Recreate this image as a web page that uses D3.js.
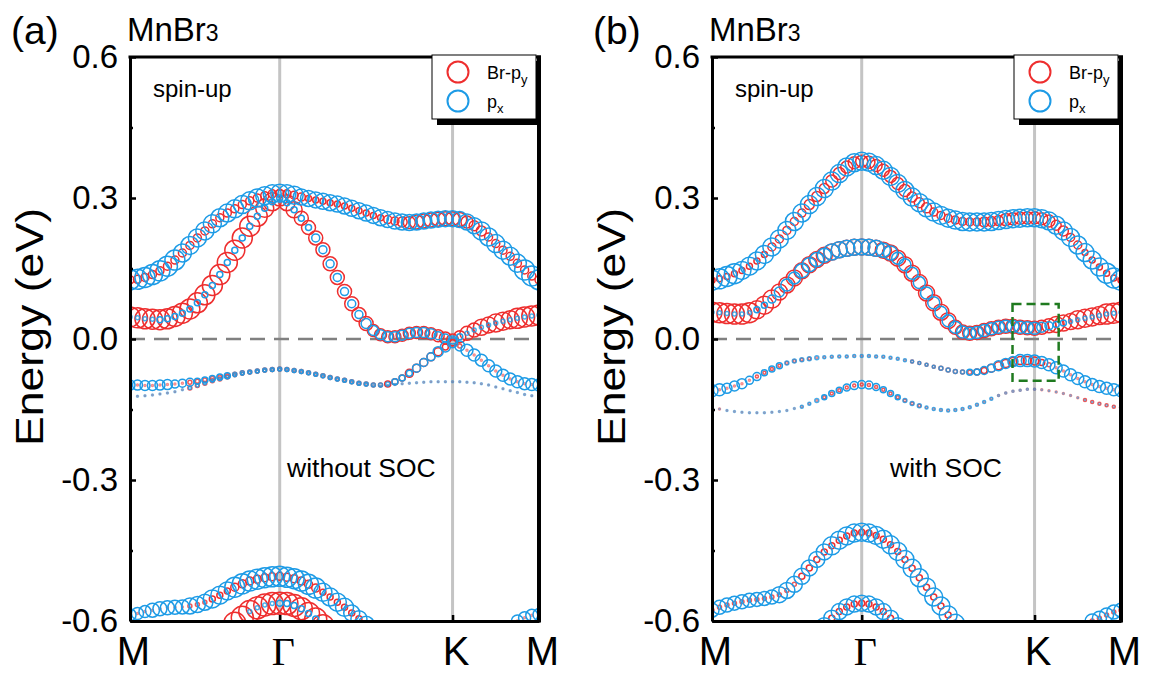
<!DOCTYPE html>
<html><head><meta charset="utf-8">
<script src="https://cdnjs.cloudflare.com/ajax/libs/d3/7.8.5/d3.min.js"></script>
<style>
html,body{margin:0;padding:0;background:#fff;}
svg{display:block;font-family:"Liberation Sans",Arial,sans-serif;}
</style></head><body>
<svg id="chart" width="1149" height="676"></svg>
<script>
// ---------- axis data ----------
const kTicks = [0, 0.5774, 1.2440, 1.5774];
const kLabels = ["M", "Γ", "K", "M"];
const kSteps = [20, 24, 12];           // k-points per path segment (M-Γ, Γ-K, K-M)
const yTicks = [-0.6, -0.3, 0.0, 0.3, 0.6];
const yTickLabels = ["-0.6", "-0.3", "0.0", "0.3", "0.6"];
const yMinorTicks = [-0.45, -0.15, 0.15, 0.45];
const legendLabels = [["Br-p", "y"], ["p", "x"]];
const panelTags = ["(a)", "(b)"];
const panelNotes = ["without SOC", "with SOC"];
const greenBoxK = [1.159, 1.337];
const greenBoxE = [-0.089, 0.0745];

// ---------- panel (a): without SOC ----------
const aTopE = [0.126,0.127,0.131,0.137,0.145,0.155,0.168,0.183,0.199,0.215,0.230,0.245,0.258,0.268,0.277,0.286,0.294,0.300,0.305,0.309,0.310,
  0.309,0.306,0.302,0.299,0.296,0.293,0.290,0.287,0.283,0.278,0.273,0.268,0.263,0.258,0.254,0.251,0.249,0.248,0.249,0.251,0.253,0.255,0.256,0.256,
  0.254,0.249,0.241,0.230,0.217,0.203,0.189,0.176,0.161,0.147,0.134,0.126];
const aTopR = [4,4,4,4,4,4,4,4,4,4,4,4,4,4,4,4,4,4,4,4,4,
  4,4,4,3,3,3,3,3,3,3,3,3,3,3,4,4,5,6,7,7,7,7,7,7,
  7,6,5,5,4,4,4,4,4,4,4,4];
const aTopB = [10,10,10,10,10,10,10,9,9,9,9,9,9,9,9,9,9,9,9,9,9,
  9,9,8,8,8,8,8,8,8,8,8,8,8,8,8,8,8,8,8,8,8,8,8,8,
  8,8,8,9,9,9,9,9,9,10,10,10];

const aRedE = [0.047,0.045,0.043,0.042,0.041,0.043,0.048,0.055,0.064,0.077,0.094,0.114,0.137,0.163,0.189,0.215,0.240,0.261,0.278,0.292,0.300,
  0.290,0.275,0.257,0.237,0.215,0.190,0.160,0.131,0.101,0.075,0.052,0.033,0.018,0.009,0.005,0.005,0.008,0.012,0.014,0.014,0.011,0.007,0.002,-0.002,
  0.005,0.012,0.019,0.025,0.030,0.034,0.038,0.041,0.044,0.047,0.049,0.051];
const aRedR = [10,10,10,10,10,10,10,10,10,10,10,10,10,10,10,10,10,10,9,9,8,
  8,8,7,7,7,7,7,7,7,7,7,7,6,6,6,6,6,6,6,6,6,6,6,6,
  6,7,7,8,8,9,9,9,10,10,10,10];
const aRedB = [2,2,2,2,3,3,3,3,3,3,3,3,3,3,3,3,3,3,3,3,3,
  3,3,3,3,4,4,4,4,4,4,4,5,5,5,5,5,5,5,5,5,5,4,4,4,
  3,2,2,2,2,2,2,2,2,2,2,2];

const aB3E = [-0.098,-0.098,-0.099,-0.099,-0.098,-0.097,-0.096,-0.094,-0.092,-0.090,-0.087,-0.084,-0.081,-0.078,-0.075,-0.072,-0.070,-0.068,-0.066,-0.065,-0.064,
  -0.065,-0.067,-0.069,-0.072,-0.075,-0.078,-0.082,-0.085,-0.088,-0.091,-0.094,-0.096,-0.098,-0.098,-0.096,-0.091,-0.083,-0.073,-0.062,-0.050,-0.038,-0.027,-0.017,-0.008,
  -0.015,-0.024,-0.034,-0.045,-0.057,-0.068,-0.077,-0.085,-0.091,-0.095,-0.097,-0.098];
const aB3R = [1,1,1,1,1,1,1,1,2,2,2,2,2,2,2,2,2,2,2,2,2,
  2,2,2,2,2,2,2,2,2,2,2,2,2,2,3,3,3,4,4,4,4,4,3,3,
  2,1,1,1,1,1,1,1,1,1,1,1];
const aB3B = [5,5,5,5,5,5,4,4,4,3,3,3,3,3,2,2,2,2,2,2,2,
  2,2,2,2,2,2,2,2,2,2,2,2,2,2,2,3,3,3,4,4,4,5,5,5,
  5,6,6,6,6,6,6,6,6,6,6,6];

const aB4E = [-0.123,-0.122,-0.121,-0.119,-0.117,-0.115,-0.112,-0.108,-0.104,-0.099,-0.094,-0.089,-0.085,-0.081,-0.077,-0.074,-0.071,-0.069,-0.067,-0.066,-0.065,
  -0.066,-0.068,-0.070,-0.073,-0.076,-0.079,-0.083,-0.086,-0.089,-0.092,-0.095,-0.097,-0.099,-0.100,-0.099,-0.097,-0.095,-0.094,-0.093,-0.092,-0.091,-0.091,-0.091,-0.091,
  -0.091,-0.092,-0.093,-0.095,-0.098,-0.102,-0.106,-0.110,-0.114,-0.118,-0.121,-0.123];
const aB4R = [0.5,0.5,0.5,0.5,0.5,0.5,0.5,0.5,2,2,2,2,2,2,1.5,1.5,1.5,1.5,1.5,1.5,1.5,
  1,1,1,1,1,1,1,1,1,1,1,1,0.5,0.5,0.5,0.5,0.5,0.5,0.5,0.5,0.5,0.5,0.5,0.5,
  0.5,0.5,0.5,0.5,0.5,0.5,0.5,0.5,0.5,0.5,0.5,0.5];
const aB4B = [1,1,1,1,1,1,1,1,1.5,1.5,1.5,1.5,1.5,1.5,1.5,1.5,1.5,1.5,1.5,1.5,1.5,
  1.5,1.5,1.5,1.5,1.5,1.5,1.5,1.5,1.5,1.5,1.5,1.5,1,1,1,1,1,1,1,1,1,1,1,1,
  1,1,1,1,1,1,1,1,1,1,1,1];

const aLow1E = [-0.587,-0.584,-0.580,-0.577,-0.574,-0.572,-0.571,-0.570,-0.568,-0.565,-0.560,-0.553,-0.545,-0.536,-0.528,-0.521,-0.515,-0.511,-0.508,-0.506,-0.505,
  -0.507,-0.510,-0.515,-0.522,-0.530,-0.539,-0.549,-0.560,-0.571,-0.583,-0.595,-0.607,-0.620,-0.633];
const aLow1R = [1,1,1,1,1,1,1,1,2,2,2,3,3,3,4,4,4,4,4,4,4,
  4,4,4,4,4,3,3,3,3,3,3,3,3,3];
const aLow1B = [6,6,6,7,7,7,7,7,8,8,8,9,9,9,10,10,10,10,10,10,10,
  10,10,10,10,10,9,9,9,9,8,8,8,8,8];
const aLow1Start = 0;
const aLow1bE = [-0.600,-0.593,-0.588,-0.586];
const aLow1bR = [1,1,1,1];
const aLow1bB = [6,6,6,6];
const aLow1bStart = 53;
const aLow2E = [-0.605,-0.592,-0.580,-0.572,-0.566,-0.563,-0.562,-0.563,-0.567,-0.574,-0.584,-0.596,-0.610];
const aLow2R = [11,11,11,11,11,11,11,11,11,11,11,11,11];
const aLow2B = [0,0,2,2,2,2,3,3,3,3,3,3,3];
const aLow2Start = 14;

// ---------- panel (b): with SOC ----------
const bTopE = [0.125,0.128,0.133,0.139,0.146,0.155,0.166,0.180,0.196,0.213,0.231,0.250,0.268,0.286,0.303,0.320,0.336,0.352,0.366,0.375,0.378,
  0.376,0.369,0.359,0.346,0.331,0.316,0.302,0.290,0.279,0.270,0.263,0.257,0.253,0.250,0.249,0.249,0.249,0.250,0.252,0.254,0.256,0.257,0.258,0.258,
  0.256,0.251,0.242,0.230,0.216,0.200,0.184,0.168,0.153,0.140,0.130,0.125];
const bTopR = [3,3,3,3,3,3,3,3,4,4,4,4,4,5,5,5,6,6,6,6,6,
  6,6,6,6,6,6,5,5,5,4,4,4,4,4,4,4,5,5,5,6,6,6,6,6,
  6,6,5,5,4,4,3,3,3,3,3,3];
const bTopB = [10,10,10,10,9,9,9,9,9,9,9,9,9,9,9,9,9,9,9,9,9,
  9,9,9,9,9,9,9,9,9,9,9,9,9,9,9,9,9,9,9,9,9,9,9,9,
  9,9,9,9,9,9,9,9,9,10,10,10];

const bRedE = [0.057,0.056,0.054,0.053,0.053,0.056,0.062,0.072,0.085,0.100,0.115,0.130,0.145,0.158,0.169,0.178,0.185,0.190,0.193,0.195,0.196,
  0.195,0.193,0.189,0.183,0.172,0.158,0.140,0.120,0.098,0.077,0.057,0.039,0.025,0.015,0.012,0.014,0.018,0.022,0.025,0.027,0.027,0.025,0.024,0.023,
  0.025,0.028,0.031,0.034,0.037,0.041,0.044,0.047,0.050,0.053,0.055,0.057];
const bRedR = [10,10,10,10,10,10,9,9,9,8,8,8,8,8,8,8,8,8,8,8,8,
  8,8,8,8,8,8,8,8,8,8,8,8,7,7,7,7,7,7,7,7,7,7,7,7,
  7,7,8,8,8,9,9,9,9,10,10,10];
const bRedB = [2,2,2,2,2,2,3,3,4,5,6,6,7,7,7,7,8,8,8,8,8,
  8,8,7,7,6,6,6,6,6,6,6,6,6,6,6,6,6,6,6,6,6,6,6,6,
  5,4,3,3,2,2,2,2,2,2,2,2];

const bB3E = [-0.110,-0.108,-0.105,-0.100,-0.095,-0.088,-0.080,-0.072,-0.064,-0.057,-0.051,-0.047,-0.044,-0.042,-0.040,-0.039,-0.038,-0.037,-0.037,-0.036,-0.036,
  -0.036,-0.037,-0.038,-0.040,-0.042,-0.045,-0.048,-0.051,-0.055,-0.059,-0.062,-0.066,-0.069,-0.070,-0.071,-0.070,-0.067,-0.062,-0.057,-0.052,-0.048,-0.046,-0.046,-0.047,
  -0.050,-0.055,-0.061,-0.068,-0.076,-0.084,-0.091,-0.097,-0.101,-0.105,-0.108,-0.110];
const bB3R = [1,1,1,1,1,1,1.5,1.5,1.5,1.5,1.5,1.5,1.5,1.5,1,1,1,1,1,1,1,
  1,1,1,1,1,1,1.5,1.5,1.5,1.5,2,2,2,2,2,3,3,4,4,4,4,4,4,4,
  3,2,1,1,1,1,1,1,1,1,1,1];
const bB3B = [6,6,5,5,5,4,4,3,3,3,2,2,2,2,2,1.5,1.5,1.5,1.5,1.5,1.5,
  1.5,1.5,1.5,1.5,1.5,1.5,1.5,1.5,1.5,1.5,2,2,2,2,3,3,4,4,5,5,5,6,6,6,
  6,6,6,6,6,6,6,6,6,6,6,6];

const bB4E = [-0.146,-0.149,-0.152,-0.154,-0.156,-0.157,-0.157,-0.157,-0.156,-0.154,-0.152,-0.148,-0.144,-0.138,-0.131,-0.124,-0.116,-0.109,-0.103,-0.099,-0.097,
  -0.098,-0.102,-0.108,-0.116,-0.124,-0.131,-0.137,-0.142,-0.146,-0.149,-0.151,-0.152,-0.151,-0.149,-0.145,-0.140,-0.134,-0.127,-0.120,-0.115,-0.111,-0.109,-0.107,-0.107,
  -0.108,-0.110,-0.113,-0.116,-0.120,-0.125,-0.130,-0.134,-0.138,-0.141,-0.144,-0.146];
const bB4R = [1,1,0.5,0.5,0.5,0.5,0.5,0.5,0.5,0.5,0.5,0.5,1,1,1,1.5,1.5,1.5,1.5,1.5,1.5,
  1.5,1.5,1.5,1.5,1.5,1.5,1.5,1.5,1,1,1,1,1,1,1,1,1,1,1,1,1,1,1,1,
  1,1,1,1,1,1,1.5,1.5,1.5,1.5,1.5,1.5];
const bB4B = [0.5,0.5,1,1,1,1,1,1,1,1,1,1,1.5,1.5,2,2.5,3,3,3.5,4,4,
  4,3.5,3,3,2.5,2,2,2,1.5,1.5,1.5,1.5,1.5,1.5,1.5,1.5,1.5,1.5,1,1,1,1,1,1,
  0.5,0.5,0.5,0.5,0.5,0.5,0.5,0.5,0.5,0.5,0.5,0.5];

const bLow1E = [-0.577,-0.571,-0.566,-0.562,-0.559,-0.556,-0.554,-0.552,-0.549,-0.544,-0.535,-0.522,-0.505,-0.487,-0.469,-0.453,-0.440,-0.428,-0.419,-0.413,-0.411,
  -0.413,-0.418,-0.426,-0.438,-0.452,-0.469,-0.488,-0.508,-0.528,-0.549,-0.568,-0.587,-0.605,-0.622];
const bLow1R = [2,2,2,2,2,2,2,2,2,2,2,2,3,3,3,3,3,3,3,3,3,
  3,3,3,3,3,3,3,3,3,3,3,3,3,3];
const bLow1B = [7,7,7,7,7,7,7,7,7,8,8,8,8,8,8,8,9,9,9,9,9,
  9,9,9,9,9,9,9,9,9,9,9,9,9,9];
const bLow1Start = 0;
const bLow1bE = [-0.600,-0.594,-0.587,-0.581,-0.577];
const bLow1bR = [2,2,2,2,2];
const bLow1bB = [7,7,7,7,7];
const bLow1bStart = 52;
const bLow2E = [-0.610,-0.594,-0.580,-0.570,-0.564,-0.562,-0.564,-0.570,-0.580,-0.594,-0.610];
const bLow2R = [3,3,3,3,3,3,3,3,3,3,3];
const bLow2B = [8,8,8,8,8,8,8,8,8,8,8];
const bLow2Start = 15;

// ---------- build ----------
const RED = "#ee2e2e", BLUE = "#1d9be6";
const kGrid = [];
kSteps.forEach((n, s) => {
  for (let j = (s === 0 ? 0 : 1); j <= n; j++) kGrid.push(kTicks[s] + (kTicks[s + 1] - kTicks[s]) * j / n);
});

const panelBands = [
  [
    {e: aTopE, r: aTopR, b: aTopB, start: 0},
    {e: aRedE, r: aRedR, b: aRedB, start: 0},
    {e: aB3E, r: aB3R, b: aB3B, start: 0},
    {e: aB4E, r: aB4R, b: aB4B, start: 0},
    {e: aLow1E, r: aLow1R, b: aLow1B, start: aLow1Start},
    {e: aLow1bE, r: aLow1bR, b: aLow1bB, start: aLow1bStart},
    {e: aLow2E, r: aLow2R, b: aLow2B, start: aLow2Start}
  ],
  [
    {e: bTopE, r: bTopR, b: bTopB, start: 0},
    {e: bRedE, r: bRedR, b: bRedB, start: 0},
    {e: bB3E, r: bB3R, b: bB3B, start: 0},
    {e: bB4E, r: bB4R, b: bB4B, start: 0},
    {e: bLow1E, r: bLow1R, b: bLow1B, start: bLow1Start},
    {e: bLow1bE, r: bLow1bR, b: bLow1bB, start: bLow1bStart},
    {e: bLow2E, r: bLow2R, b: bLow2B, start: bLow2Start}
  ]
];

const svg = d3.select("#chart");
const plotW = 409, plotTop = 57, plotBot = 621;
const lefts = [130, 712];

lefts.forEach((left, pi) => {
  const g = svg.append("g");
  const x = d3.scaleLinear().domain([kTicks[0], kTicks[3]]).range([left, left + plotW]);
  const y = d3.scaleLinear().domain([-0.6, 0.6]).range([plotBot, plotTop]);

  const clipId = "clip" + pi;
  svg.append("clipPath").attr("id", clipId).append("rect")
    .attr("x", left).attr("y", plotTop).attr("width", plotW).attr("height", plotBot - plotTop);

  // high-symmetry lines
  g.selectAll("line.hs").data([kTicks[1], kTicks[2]]).join("line")
    .attr("x1", d => x(d)).attr("x2", d => x(d)).attr("y1", plotTop).attr("y2", plotBot)
    .attr("stroke", "#c4c4c4").attr("stroke-width", 3);
  // Fermi level
  g.append("line").attr("x1", x(kTicks[0])).attr("x2", x(kTicks[3])).attr("y1", y(0)).attr("y2", y(0))
    .attr("stroke", "#808080").attr("stroke-width", 2.5).attr("stroke-dasharray", "15,9");

  // fat bands
  const cg = g.append("g").attr("clip-path", `url(#${clipId})`);
  const bands = panelBands[pi];
  [["r", RED], ["b", BLUE]].forEach(([key, col]) => {
    bands.forEach(band => {
      const pts = [];
      band.e.forEach((e, i) => {
        const rad = band[key][i];
        if (e !== null && rad > 0) pts.push({k: kGrid[band.start + i], e: e, rad: rad});
      });
      cg.append("g").selectAll("circle").data(pts).join("circle")
        .attr("cx", d => x(d.k)).attr("cy", d => y(d.e)).attr("r", d => d.rad)
        .attr("fill", "none").attr("stroke", col).attr("stroke-width", 1.5)
        .attr("stroke-opacity", d => d.rad < 1.2 ? 0.55 : (d.rad < 2.5 ? 0.8 : 1));
    });
  });

  // green dashed box (panel b)
  if (pi === 1) {
    g.append("rect")
      .attr("x", x(greenBoxK[0])).attr("y", y(greenBoxE[1]))
      .attr("width", x(greenBoxK[1]) - x(greenBoxK[0])).attr("height", y(greenBoxE[0]) - y(greenBoxE[1]))
      .attr("fill", "none").attr("stroke", "#1f7a1f").attr("stroke-width", 2.5).attr("stroke-dasharray", "9,5");
  }

  // axes
  const ax = g.append("g").attr("transform", `translate(${left},0)`)
    .call(d3.axisLeft(y).tickValues(yTicks).tickFormat((d, i) => yTickLabels[i]).tickSize(-6).tickSizeOuter(0).tickPadding(12));
  ax.select(".domain").attr("stroke-width", 3);
  ax.selectAll(".tick line").attr("stroke-width", 2.5);
  ax.selectAll(".tick text").attr("font-size", 33).attr("font-family", "Liberation Sans, Arial, sans-serif").attr("fill", "#000");

  const axm = g.append("g").attr("transform", `translate(${left},0)`)
    .call(d3.axisLeft(y).tickValues(yMinorTicks).tickFormat("").tickSize(-3).tickSizeOuter(0));
  axm.select(".domain").remove();
  axm.selectAll(".tick line").attr("stroke-width", 2.5);

  const bx = g.append("g").attr("transform", `translate(0,${plotBot})`)
    .call(d3.axisBottom(x).tickValues(kTicks).tickFormat((d, i) => kLabels[i]).tickSize(-6).tickSizeOuter(0).tickPadding(16));
  bx.select(".domain").attr("stroke-width", 3);
  bx.selectAll(".tick line").attr("stroke-width", 2.5);
  bx.selectAll(".tick text").attr("font-size", 40).attr("dx", 3).attr("fill", "#000")
    .attr("font-family", (d, i) => kLabels[i] === "Γ" ? "Liberation Serif, Times New Roman, serif" : "Liberation Sans, Arial, sans-serif");

  // frame top/right
  g.append("line").attr("x1", left - 1.5).attr("x2", left + plotW + 2).attr("y1", plotTop).attr("y2", plotTop)
    .attr("stroke", "#000").attr("stroke-width", 3);
  g.append("line").attr("x1", left + plotW).attr("x2", left + plotW).attr("y1", plotTop - 1.5).attr("y2", plotBot + 1.5)
    .attr("stroke", "#000").attr("stroke-width", 4);

  // legend
  const lx = left + 302, ly = 55;
  g.append("rect").attr("x", lx + 5).attr("y", ly + 6).attr("width", 104).attr("height", 64).attr("fill", "#000");
  g.append("rect").attr("x", lx).attr("y", ly).attr("width", 104).attr("height", 64)
    .attr("fill", "#fff").attr("stroke", "#000").attr("stroke-width", 1);
  [[RED, 72, 79], [BLUE, 101, 108]].forEach(([col, cy, by], i) => {
    g.append("circle").attr("cx", lx + 26).attr("cy", cy).attr("r", 10.5)
      .attr("fill", "none").attr("stroke", col).attr("stroke-width", 2);
    const t = g.append("text").attr("x", lx + 55).attr("y", by).attr("font-size", 18).attr("fill", "#000");
    t.append("tspan").text(legendLabels[i][0]);
    t.append("tspan").attr("font-size", 13).attr("dy", 5).text(legendLabels[i][1]);
  });

  // texts
  svg.append("text").attr("x", left - 119).attr("y", 44).attr("font-size", 39).attr("fill", "#000").text(panelTags[pi]);
  const tt = svg.append("text").attr("x", left - 3).attr("y", 41).attr("font-size", 33).attr("fill", "#000");
  tt.append("tspan").text("MnBr");
  tt.append("tspan").attr("font-size", 23).text("3");
  svg.append("text").attr("x", left + 23).attr("y", 97).attr("font-size", 24).attr("fill", "#000").text("spin-up");
  svg.append("text").attr("x", left + (pi === 0 ? 157 : 178)).attr("y", 477).attr("font-size", 26.5).attr("fill", "#000").text(panelNotes[pi]);
  svg.append("text").attr("transform", `translate(${left - 87},327) rotate(-90)`)
    .attr("text-anchor", "middle").attr("font-size", 38).attr("fill", "#000")
    .attr("textLength", 238).attr("lengthAdjust", "spacingAndGlyphs").text("Energy (eV)");
});
</script>
</body></html>
